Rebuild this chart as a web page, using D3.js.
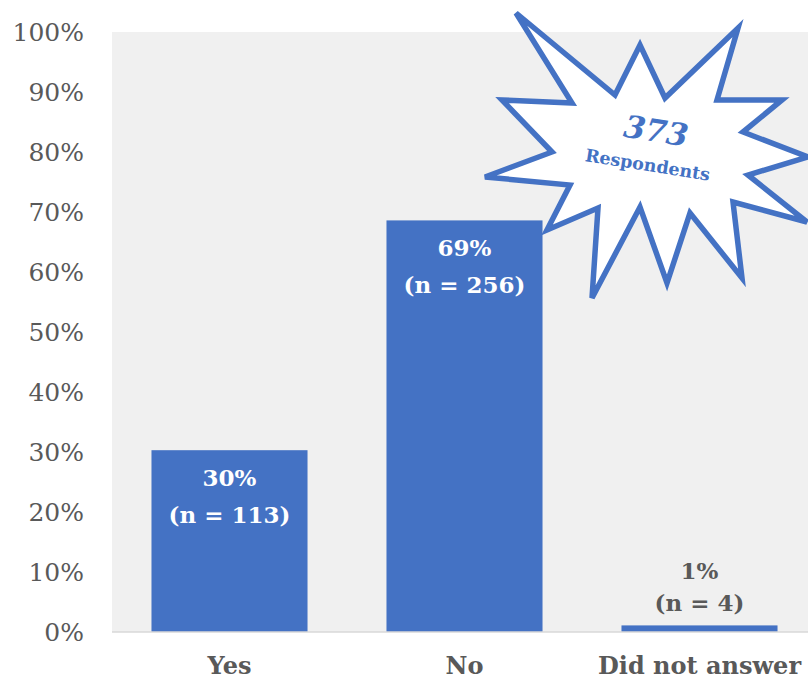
<!DOCTYPE html>
<html>
<head>
<meta charset="utf-8">
<script src="https://cdn.jsdelivr.net/npm/d3@7"></script>
<style>
  html, body { margin: 0; padding: 0; background: #fff; }
  svg { display: block; }
</style>
</head>
<body>
<div id="chart"></div>
<script>
// ---- data ----
const categories = ["Yes", "No", "Did not answer"];
const percents = [30.3, 68.6, 1.1];           // share of respondents (%)
const counts = [113, 256, 4];                 // n per answer
const percentLabels = ["30%", "69%", "1%"];
const yTicks = [0, 10, 20, 30, 40, 50, 60, 70, 80, 90, 100];
const totalRespondents = 373;
const burstLabel = "Respondents";

// ---- layout ----
const W = 808, H = 680;
const margin = { left: 112, top: 32, bottom: 48 };
const plotBottom = H - margin.bottom; // 632
const blue = "#4472c4";
const gray = "#595959";
const fontFam = "'DejaVu Serif', 'Liberation Serif', serif";

const svg = d3.select("#chart").append("svg")
  .attr("width", W).attr("height", H);

const x = d3.scaleBand()
  .domain(categories)
  .range([margin.left, 817])
  .paddingInner(0.336)
  .paddingOuter(0.168);

const y = d3.scaleLinear()
  .domain([0, 100])
  .range([plotBottom, margin.top]);

// plot background
svg.append("rect")
  .attr("x", margin.left).attr("y", y(100))
  .attr("width", W - margin.left).attr("height", y(0) - y(100))
  .attr("fill", "#f0f0f0");

// y axis labels
const yAxis = d3.axisLeft(y).tickValues(yTicks).tickFormat(d => d + "%").tickSize(0).tickPadding(0);
const yg = svg.append("g").attr("transform", `translate(${84},0)`).call(yAxis);
yg.select(".domain").remove();
yg.selectAll("text")
  .attr("fill", gray)
  .style("font-family", fontFam)
  .style("font-size", "25px")
  .attr("dy", "0.35em");

// bars
const data = categories.map((c, i) => ({ c, p: percents[i], n: counts[i], lab: percentLabels[i] }));
svg.selectAll("rect.bar").data(data).enter().append("rect")
  .attr("class", "bar")
  .attr("x", d => x(d.c))
  .attr("y", d => y(d.p))
  .attr("width", x.bandwidth())
  .attr("height", d => y(0) - y(d.p))
  .attr("fill", blue);

// baseline
svg.append("line")
  .attr("x1", margin.left).attr("x2", W)
  .attr("y1", y(0)).attr("y2", y(0))
  .attr("stroke", "#d9d9d9").attr("stroke-width", 1.5);

// x axis labels
const xAxis = d3.axisBottom(x).tickSize(0).tickPadding(0);
const xg = svg.append("g").attr("transform", `translate(0,${666})`).call(xAxis);
xg.select(".domain").remove();
xg.selectAll("text")
  .attr("y", 0)
  .attr("dy", "0.35em")
  .attr("fill", gray)
  .style("font-family", fontFam)
  .style("font-size", "24px")
  .style("font-weight", "bold");

// bar value labels
const lab = svg.selectAll("g.lab").data(data).enter().append("g").attr("class", "lab");
lab.each(function(d) {
  const g = d3.select(this);
  const inside = (y(0) - y(d.p)) > 80;
  const cx = x(d.c) + x.bandwidth() / 2;
  const y1 = inside ? y(d.p) + 28 : y(d.p) - 54;
  const y2 = inside ? y(d.p) + 65 : y(d.p) - 22;
  const col = inside ? "#ffffff" : gray;
  [[d.lab, y1], [`(n = ${d.n})`, y2]].forEach(([t, yy]) => {
    g.append("text")
      .attr("x", cx).attr("y", yy).attr("dy", "0.35em")
      .attr("text-anchor", "middle")
      .attr("fill", col)
      .style("font-family", fontFam)
      .style("font-size", "23px")
      .style("font-weight", "bold")
      .text(t);
  });
});

// starburst annotation (shape offsets relative to its centre)
const burstCenter = [650, 150];
const burstShape = [
  [-134,-137],[-35,-55],[-10,-105],[15,-52],[88,-122],[67,-50],[132,-50],[93,-18],
  [158,7],[98,25],[157,72],[83,52],[92,128],[40,63],[17,133],[-10,57],
  [-58,148],[-52,58],[-103,80],[-80,35],[-165,27],[-98,2],[-148,-50],[-78,-47]
];
svg.append("polygon")
  .attr("points", burstShape.map(p => [burstCenter[0] + p[0], burstCenter[1] + p[1]].join(",")).join(" "))
  .attr("fill", "#ffffff")
  .attr("stroke", blue)
  .attr("stroke-width", 5.5)
  .attr("stroke-linejoin", "miter");

const bt = svg.append("g").attr("transform", `translate(${burstCenter[0]},${burstCenter[1]}) rotate(9)`);
bt.append("text")
  .attr("x", 3).attr("y", -20).attr("dy", "0.35em")
  .attr("text-anchor", "middle")
  .attr("fill", blue)
  .style("font-family", fontFam)
  .style("font-size", "31px")
  .style("font-weight", "bold")
  .style("font-style", "italic")
  .text(totalRespondents);
bt.append("text")
  .attr("x", 0).attr("y", 15).attr("dy", "0.35em")
  .attr("text-anchor", "middle")
  .attr("fill", blue)
  .style("font-family", fontFam)
  .style("font-size", "17.5px")
  .style("font-weight", "bold")
  .text(burstLabel);
</script>
</body>
</html>
